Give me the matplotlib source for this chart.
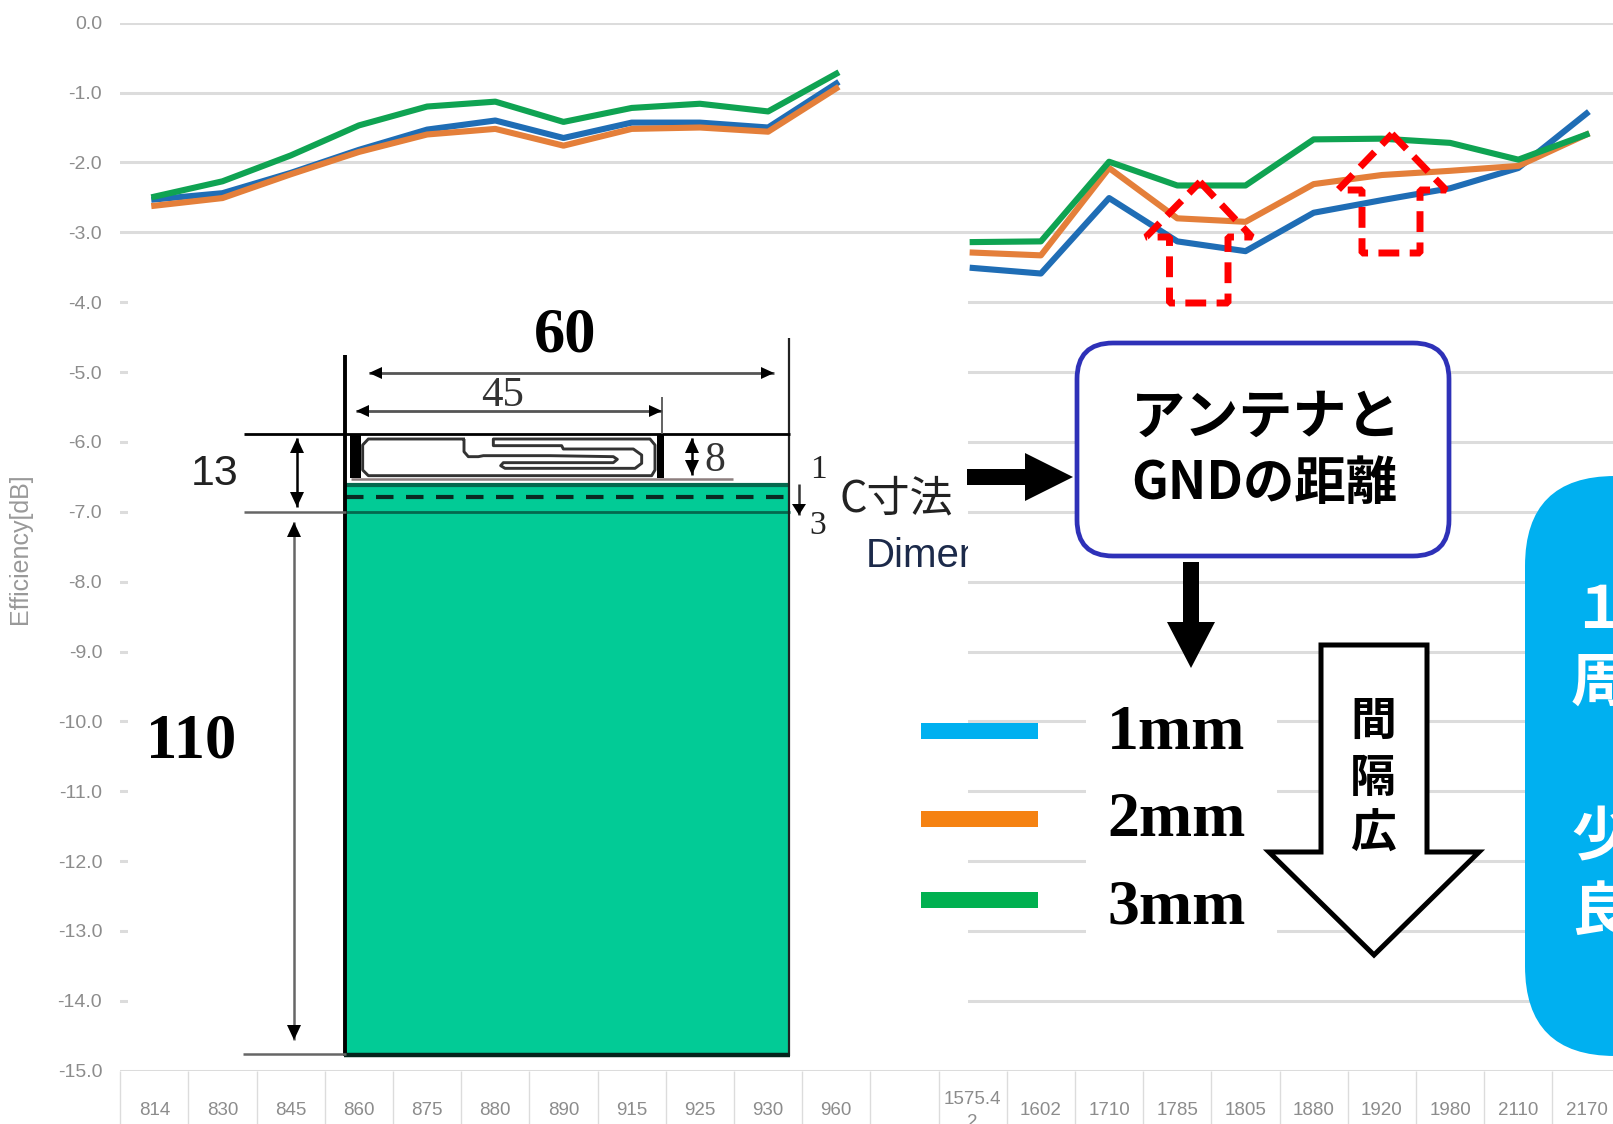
import numpy as np
import matplotlib
matplotlib.use("Agg")
import matplotlib.pyplot as plt
from matplotlib.patches import Rectangle, Polygon, FancyBboxPatch

plt.rcParams["font.family"] = ["Noto Sans CJK JP", "DejaVu Sans"]

SANS = ["Liberation Sans", "DejaVu Sans"]
SERIF = ["Liberation Serif", "DejaVu Serif"]
CJK = ["Noto Sans CJK JP", "DejaVu Sans"]

# Chart data
freq_labels = ["814", "830", "845", "860", "875", "880", "890", "915", "925", "930", "960", "",
               "1575.4\n2", "1602", "1710", "1785", "1805", "1880", "1920", "1980", "2110", "2170"]
y_ticks = [0, -1, -2, -3, -4, -5, -6, -7, -8, -9, -10, -11, -12, -13, -14, -15]
nan = float("nan")
eff_1mm = [-2.53, -2.44, -2.15, -1.82, -1.53, -1.40, -1.65, -1.43, -1.43, -1.50, -0.87, nan,
           -3.51, -3.59, -2.51, -3.13, -3.27, -2.72, -2.54, -2.37, -2.08, -1.30]
eff_2mm = [-2.62, -2.51, -2.17, -1.85, -1.60, -1.52, -1.76, -1.52, -1.50, -1.56, -0.94, nan,
           -3.29, -3.33, -2.08, -2.80, -2.85, -2.31, -2.18, -2.12, -2.05, -1.60]
eff_3mm = [-2.49, -2.27, -1.90, -1.47, -1.20, -1.13, -1.42, -1.22, -1.16, -1.27, -0.73, nan,
           -3.14, -3.13, -1.99, -2.33, -2.33, -1.67, -1.66, -1.72, -1.96, -1.60]
legend_labels = ["1mm", "2mm", "3mm"]

W, H = 1613, 1124
fig = plt.figure(figsize=(W / 100, H / 100), dpi=100)

# Chart axes, placed so that the dB scale and categories land where they do in the picture
left, right, top, bottom = 120.2, 1613, 22.7, 1070.7
ax = fig.add_axes([left / W, 1 - bottom / H, (right - left) / W, (bottom - top) / H])

x = np.arange(len(freq_labels))
ax.plot(x, eff_1mm, color="#1f6db5", lw=4.4, solid_joinstyle="round", zorder=3)
ax.plot(x, eff_2mm, color="#e47f3a", lw=4.4, solid_joinstyle="round", zorder=3)
ax.plot(x, eff_3mm, color="#0fa352", lw=4.4, solid_joinstyle="round", zorder=3)

for s in ax.spines.values():
    s.set_visible(False)
ax.set_yticks(y_ticks)
ax.set_yticklabels([f"{v:.1f}" for v in y_ticks], family=SANS, fontsize=14, color="#8c8c8c")
ax.tick_params(axis="y", length=0, pad=13)
ax.grid(axis="y", color="#dcdcdc", lw=2.2, zorder=1)
ax.set_axisbelow(True)
ax.set_xticks(x)
ax.set_xticklabels(freq_labels, family=SANS, fontsize=13.5, color="#8c8c8c", va="center", linespacing=1.45)
ax.tick_params(axis="x", length=0, pad=29)
ax.set_xticks(np.arange(len(freq_labels) + 1) - 0.5, minor=True)
ax.tick_params(axis="x", which="minor", length=40, width=1, color="#dcdcdc")
ax.set_xlim(-0.5, -0.5 + (right - left) / 68.2)
ax.set_ylim(-15, 0)

# Overlay in picture pixels for the pasted-on drawing and callouts
ov = fig.add_axes([0, 0, 1, 1])
ov.set_xlim(0, W)
ov.set_ylim(H, 0)
ov.axis("off")
ov.patch.set_alpha(0)

ax.set_ylabel("Efficiency[dB]", family=SANS, fontsize=18, color="#999999")
ax.yaxis.set_label_coords(32, 549, transform=ov.transData)

# White paper behind the drawing and the legend text
ov.add_patch(Rectangle((128, 285), 840, 777, fc="white", ec="none", zorder=1))
ov.add_patch(Rectangle((1086, 700), 191, 250, fc="white", ec="none", zorder=1))


def line(xs, ys, color="black", lw=1.5, **kw):
    ov.plot(xs, ys, color=color, lw=lw, solid_capstyle="butt", zorder=kw.pop("zorder", 4), **kw)


def dim_h(x0, x1, y, size=13):
    line([x0, x1], [y, y], color="#555555", lw=2)
    ov.add_patch(Polygon([[x0, y], [x0 + size, y - 6], [x0 + size, y + 6]], fc="black", ec="none", zorder=5))
    ov.add_patch(Polygon([[x1, y], [x1 - size, y - 6], [x1 - size, y + 6]], fc="black", ec="none", zorder=5))


def dim_v(xp, y0, y1, size=15, start=True, color="black"):
    line([xp, xp], [y0, y1], color=color, lw=1.8)
    if start:
        ov.add_patch(Polygon([[xp, y0], [xp - 7, y0 + size], [xp + 7, y0 + size]], fc="black", ec="none", zorder=5))
    ov.add_patch(Polygon([[xp, y1], [xp - 7, y1 - size], [xp + 7, y1 - size]], fc="black", ec="none", zorder=5))


# Board
ov.add_patch(Rectangle((346, 484), 444, 572, fc="#02cb96", ec="none", zorder=3))
line([346, 790], [485, 485], color="#04694e", lw=3)
line([346, 790], [497, 497], color="#0a2a22", lw=3, linestyle=(0, (4.2, 3)))
line([346, 790], [512, 512], color="#04694e", lw=2)
line([345, 345], [355, 1056], lw=2.8)
line([789, 789], [338, 1056], color="#222222", lw=1.6)
line([344, 790], [1055, 1055], color="#04241c", lw=3.2)
line([244, 790], [434, 434], lw=2)
line([244, 346], [512, 512], color="#666666", lw=1.8)
line([243, 346], [1054, 1054], color="#666666", lw=1.8)
line([662, 662], [397, 434], color="#555555", lw=1.3)
line([351, 733], [479, 479], color="#8d7f7f", lw=1.8)

# Antenna element
ov.add_patch(Rectangle((350, 434), 11, 44, fc="black", ec="none", zorder=4))
ov.add_patch(Rectangle((657, 434), 7, 44, fc="black", ec="none", zorder=4))
trace = np.array([(375, 42), (85, 42), (68, 60), (68, 135), (85, 152), (935, 152), (945, 135), (945, 60),
                  (930, 42), (460, 42), (460, 62), (665, 62), (670, 72), (880, 72), (905, 90), (905, 115),
                  (885, 130), (495, 130), (482, 122), (490, 113), (820, 113), (832, 103), (820, 95),
                  (630, 92), (430, 92), (415, 95), (385, 95), (372, 80), (372, 42)], dtype=float)
line(340 + trace[:, 0] / 3, 425 + trace[:, 1] / 3, color="#333333", lw=2.1)

# Dimensions
dim_h(369, 774, 373)
dim_h(356, 662, 411)
dim_v(297, 438, 507)
dim_v(294, 522, 1040, color="#666666")
dim_v(692, 438, 475)
dim_v(799, 484, 515, size=11, start=False, color="#333333")
ov.text(565, 337, "60", family=SERIF, weight="bold", fontsize=45, ha="center", va="center", zorder=6)
ov.text(503, 396, "45", family=SERIF, fontsize=31, color="#333333", ha="center", va="center", zorder=6)
ov.text(215, 474, "13", family=SANS, fontsize=31, color="#222222", ha="center", va="center", zorder=6)
ov.text(191, 743, "110", family=SERIF, weight="bold", fontsize=45, ha="center", va="center", zorder=6)
ov.text(715, 461, "8", family=SERIF, fontsize=30, color="#333333", ha="center", va="center", zorder=6)
ov.text(818, 470, "1", family=SERIF, fontsize=24, color="#222222", ha="center", va="center", zorder=6)
ov.text(818, 526, "3", family=SERIF, fontsize=24, color="#222222", ha="center", va="center", zorder=6)
ov.text(839, 499, "C寸法", family=CJK, fontsize=31, color="#222222", ha="left", va="center", zorder=6)
dim_text = ov.text(866, 556, "Dimen", family=SANS, fontsize=29, color="#1c2a4a", ha="left", va="center", zorder=6)
dim_text.set_clip_on(True)
dim_text.set_clip_path(Rectangle((860, 520), 108, 70, transform=ov.transData))

# Callout box and block arrows
ov.add_patch(FancyBboxPatch((1112, 378), 302, 143, boxstyle="round,pad=35,rounding_size=36",
                            fc="white", ec="#2e31b8", lw=3.4, zorder=5))
ov.text(1266, 418, "アンテナと", family=CJK, weight="bold", fontsize=39, ha="center", va="center", zorder=6)
ov.text(1264, 483, "GNDの距離", family=CJK, weight="bold", fontsize=37, ha="center", va="center", zorder=6)
ov.add_patch(Polygon([[967, 469], [1025, 469], [1025, 453], [1073, 477], [1025, 501], [1025, 485], [967, 485]],
                     fc="black", ec="none", zorder=6))
ov.add_patch(Polygon([[1183, 562], [1199, 562], [1199, 622], [1215, 622], [1191, 668], [1167, 622], [1183, 622]],
                     fc="black", ec="none", zorder=6))

# Hollow arrow
ov.add_patch(Polygon([[1321, 645], [1427, 645], [1427, 852], [1479, 852], [1374, 955], [1269, 852], [1321, 852]],
                     fc="white", ec="black", lw=3.6, joinstyle="miter", zorder=5))
for ch, yc in zip("間隔広", [722, 779, 835]):
    ov.text(1373, yc, ch, family=CJK, weight="bold", fontsize=33, ha="center", va="center", zorder=6)

# Colour key
key_colors = ["#00b0f0", "#f58212", "#00b050"]
for label, col, yc, base in zip(legend_labels, key_colors, [731, 819, 900], [749, 836, 923]):
    ov.add_patch(Rectangle((921, yc - 8), 117, 16, fc=col, ec="none", zorder=6))
    ov.text(1107, base, label, family=SERIF, weight="bold", fontsize=46, ha="left", va="baseline", zorder=6)

# Red dashed house arrows
for apex, lft, rgt, sl, sr, base, bot in [((1200, 182), 1146, 1252, 1169.5, 1228, 237, 303),
                                          ((1392, 134), 1338, 1446, 1362, 1420, 190, 253)]:
    ov.add_patch(Polygon([apex, [rgt, base], [sr, base], [sr, bot], [sl, bot], [sl, base], [lft, base]],
                         fc="none", ec="#ff0000", lw=5, linestyle=(0, (3.0, 1.5)), joinstyle="bevel", zorder=7))

# Blue panel running off the right edge
ov.add_patch(FancyBboxPatch((1615, 566), 200, 400, boxstyle="round,pad=90,rounding_size=90",
                            fc="#00b0f0", ec="none", zorder=5))
for ch, yc in zip(["１", "周", "少", "良"], [611, 684, 838, 913]):
    ov.text(1571, yc, ch, family=CJK, weight="bold", fontsize=42, color="white", ha="left", va="center", zorder=6)

fig.savefig("out.png", dpi=100)
